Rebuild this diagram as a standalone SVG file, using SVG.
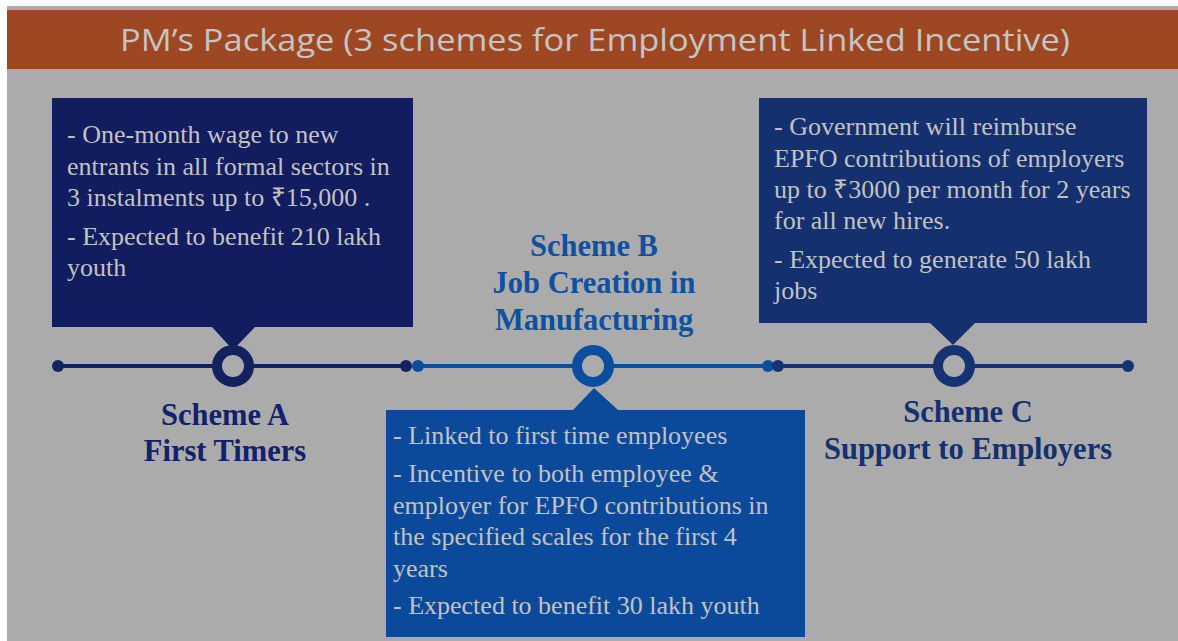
<svg xmlns="http://www.w3.org/2000/svg" width="1178" height="641" viewBox="0 0 1178 641">
<style>
.body{font-family:"Liberation Serif","Times New Roman",serif;font-size:26px;fill:#c2c2c2}
.lbl{font-family:"Liberation Serif","Times New Roman",serif;font-size:30.5px;font-weight:bold;text-anchor:middle}
.title{font-family:"Open Sans","Liberation Sans",sans-serif;font-size:31px;fill:#c4c4c4;text-anchor:middle}
.ring{fill:#ababab;stroke-width:10}
</style>
<rect x="0" y="0" width="1178" height="641" fill="#ffffff"/>
<rect x="7" y="6" width="1171" height="635" fill="#ababab"/>
<g id="banner">
<rect x="7" y="10" width="1171" height="59" fill="#9e4723"/>
<text class="title" x="595" y="51" textLength="950" lengthAdjust="spacingAndGlyphs">PM’s Package (3 schemes for Employment Linked Incentive)</text>
</g>
<g id="connectors">
<line x1="58" y1="366" x2="406" y2="366" stroke="#13215e" stroke-width="4"/>
<line x1="418" y1="366" x2="768" y2="366" stroke="#0b4d9e" stroke-width="4"/>
<line x1="778" y1="366" x2="1128" y2="366" stroke="#153273" stroke-width="4"/>
<circle cx="58" cy="366" r="6" fill="#13215e"/>
<circle cx="406" cy="366" r="6" fill="#13215e"/>
<circle cx="418" cy="366" r="6" fill="#0b4d9e"/>
<circle cx="768" cy="366" r="6" fill="#0b4d9e"/>
<circle cx="778" cy="366" r="6" fill="#153273"/>
<circle cx="1128" cy="366" r="6" fill="#153273"/>
</g>
<g id="schemeA">
<path d="M52 98 H413 V327 H255 L233 350 L212 327 H52 Z" fill="#111d5e"/>
<circle class="ring" cx="233" cy="366" r="16" stroke="#13215e"/>
<text class="body" x="67" y="143">- One-month wage to new</text>
<text class="body" x="67" y="175">entrants in all formal sectors in</text>
<text class="body" x="67" y="206">3 instalments up to ₹15,000 .</text>
<text class="body" x="67" y="245">- Expected to benefit 210 lakh</text>
<text class="body" x="67" y="276">youth</text>
<text class="lbl" x="225" y="425" fill="#13216a">Scheme A</text>
<text class="lbl" x="225" y="461" fill="#13216a">First Timers</text>
</g>
<g id="schemeB">
<path d="M386 410 H573 L594 388 L618 410 H805 V637 H386 Z" fill="#0b4a9b"/>
<circle class="ring" cx="593" cy="366" r="16" stroke="#0b4d9e"/>
<text class="body" x="393" y="444">- Linked to first time employees</text>
<text class="body" x="393" y="482">- Incentive to both employee &amp;</text>
<text class="body" x="393" y="514">employer for EPFO contributions in</text>
<text class="body" x="393" y="545">the specified scales for the first 4</text>
<text class="body" x="393" y="577">years</text>
<text class="body" x="393" y="614">- Expected to benefit 30 lakh youth</text>
<text class="lbl" x="594" y="256" fill="#1050a0">Scheme B</text>
<text class="lbl" x="594" y="293" fill="#1050a0">Job Creation in</text>
<text class="lbl" x="594" y="330" fill="#1050a0">Manufacturing</text>
</g>
<g id="schemeC">
<path d="M759 98 H1147 V323 H975 L953 345 L930 323 H759 Z" fill="#15306f"/>
<circle class="ring" cx="954" cy="366" r="16" stroke="#153273"/>
<text class="body" x="774" y="135">- Government will reimburse</text>
<text class="body" x="774" y="167">EPFO contributions of employers</text>
<text class="body" x="774" y="198">up to ₹3000 per month for 2 years</text>
<text class="body" x="774" y="229">for all new hires.</text>
<text class="body" x="774" y="268">- Expected to generate 50 lakh</text>
<text class="body" x="774" y="299">jobs</text>
<text class="lbl" x="968" y="422" fill="#15306f">Scheme C</text>
<text class="lbl" x="968" y="459" fill="#15306f">Support to Employers</text>
</g>
</svg>
